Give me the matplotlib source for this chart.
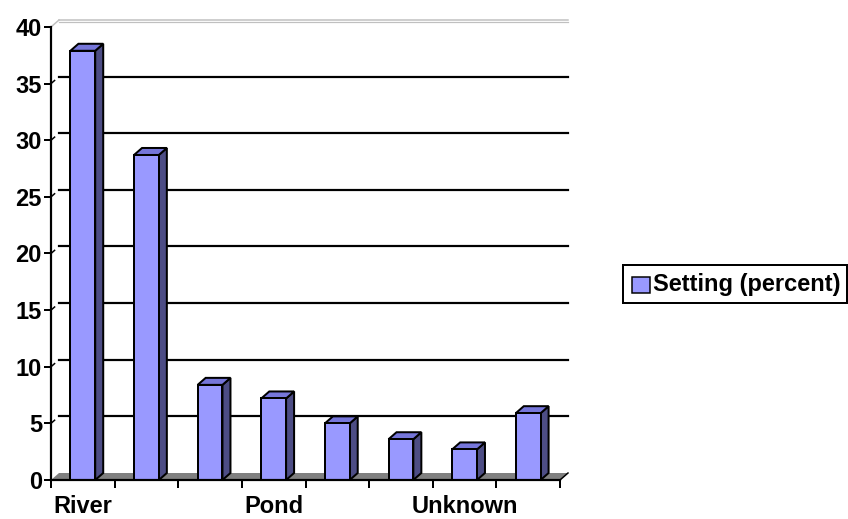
import matplotlib.pyplot as plt
from matplotlib.patches import Polygon, Rectangle
import numpy as np

# ------------------------------------------------------------
# Data
# ------------------------------------------------------------

labels = ['River', '', '', 'Pond', '', '', 'Unknown', '']
values = [37.9, 28.7, 8.4, 7.2, 5.0, 3.6, 2.7, 5.9]
y_ticks = [0, 5, 10, 15, 20, 25, 30, 35, 40]
series_name = 'Setting (percent)'

# colours of the 3d column faces
c_front = '#9999FF'
c_side = '#4D4D85'
c_top = '#7676DA'
c_floor = '#808080'
c_wall = '#C0C0C0'

PX = 0.72  # one pixel in points at 100 dpi

# ------------------------------------------------------------
# Figure and axes (x in category slots, y in percent)
# ------------------------------------------------------------

W, H = 848, 519
fig = plt.figure(figsize=(W / 100, H / 100), dpi=100)
x0, x1, y0, y1 = 51, 560, 480, 27
ax = fig.add_axes([x0 / W, (H - y0) / H, (x1 - x0) / W, (y0 - y1) / H])
n = len(values)
ax.set_xlim(0, n)
ax.set_ylim(0, 40)

# depth offset of the back wall, in data units
px_x = (x1 - x0) / n
px_y = (y0 - y1) / 40
dx = 8 / px_x
dy = 7 / px_y

font = dict(family=['Liberation Sans', 'DejaVu Sans'], weight='bold', size=17)

for s in ['top', 'right']:
    ax.spines[s].set_visible(False)
for s in ['left', 'bottom']:
    ax.spines[s].set_linewidth(2.2 * PX)
    ax.spines[s].set_zorder(6)

# floor
ax.add_patch(Polygon([(0, 0), (n, 0), (n + dx, dy), (dx, dy)], closed=True,
                     facecolor=c_floor, edgecolor='none', zorder=1, clip_on=False))
ax.plot([n, n + dx], [0, dy], color='black', lw=1.5 * PX, zorder=6, clip_on=False)

# gridlines on the back wall
for v in y_ticks[1:-1]:
    ax.plot([dx, n + dx], [v + dy, v + dy], color='black', lw=2.2 * PX, zorder=2, clip_on=False)
    ax.plot([0, dx * 0.45], [v, v + dy * 0.45], color='black', lw=1.5 * PX, zorder=6, clip_on=False)
top = y_ticks[-1]
ax.plot([dx, n + dx], [top + dy, top + dy], color=c_wall, lw=1.5 * PX, zorder=2, clip_on=False)
ax.plot([dx, n + dx], [top + dy - 2 / px_y, top + dy - 2 / px_y], color=c_wall,
        lw=1.2 * PX, zorder=2, clip_on=False)
ax.plot([0, dx], [top, top + dy], color=c_wall, lw=1.5 * PX, zorder=2, clip_on=False)

# 3d columns
w = 0.39
for i, v in enumerate(values):
    c = i + 0.5
    l, r = c - w / 2, c + w / 2
    ax.add_patch(Polygon([(r, 0), (r + dx, dy), (r + dx, v + dy), (r, v)], closed=True,
                         facecolor=c_side, edgecolor='black', lw=2 * PX, zorder=4, clip_on=False))
    ax.add_patch(Polygon([(l, v), (r, v), (r + dx, v + dy), (l + dx, v + dy)], closed=True,
                         facecolor=c_top, edgecolor='black', lw=2 * PX, zorder=4, clip_on=False))
    ax.add_patch(Rectangle((l, 0), w, v, facecolor=c_front, edgecolor='black',
                           lw=2 * PX, zorder=5, clip_on=False))

# axes ticks
ax.set_yticks(y_ticks)
ax.set_yticklabels([str(t) for t in y_ticks], fontdict=font)
ax.tick_params(axis='y', direction='out', length=7 * PX, width=2 * PX, pad=2 * PX)

ax.set_xticks(np.arange(n + 1))
ax.set_xticklabels([])
ax.tick_params(axis='x', which='major', direction='out', length=8 * PX, width=2 * PX)
ax.set_xticks(np.arange(n) + 0.5, minor=True)
ax.set_xticklabels(labels, minor=True, fontdict=font)
ax.tick_params(axis='x', which='minor', length=0, pad=15 * PX)

# legend box
lx0, ly0, lx1, ly1 = 623, 265, 847, 303
fig.add_artist(Rectangle((lx0 / W, 1 - ly1 / H), (lx1 - lx0) / W, (ly1 - ly0) / H,
                         transform=fig.transFigure, facecolor='white',
                         edgecolor='black', lw=2 * PX))
fig.add_artist(Rectangle((632 / W, 1 - 293 / H), 18 / W, 16 / H,
                         transform=fig.transFigure, facecolor=c_front,
                         edgecolor='black', lw=1.5 * PX))
fig.text(653 / W, 1 - 285 / H, series_name, ha='left', va='center', **font)

fig.savefig('out.png', dpi=100)
